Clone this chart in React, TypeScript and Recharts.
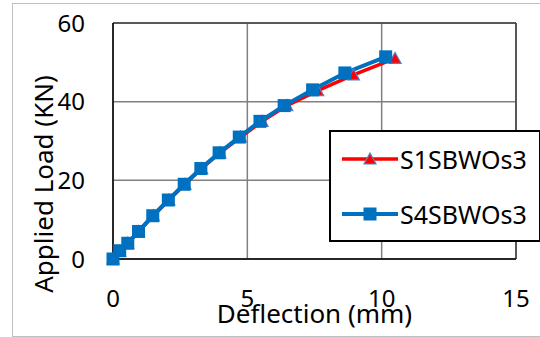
import React from 'react';
import {
  LineChart,
  Line,
  XAxis,
  YAxis,
  CartesianGrid,
  ReferenceLine,
} from 'recharts';

// S1SBWOs3 (red, triangles)
const deflS1 = [0, 0.25, 0.55, 0.95, 1.5, 2.08, 2.68, 3.3, 3.98, 4.75, 5.55, 6.47, 7.62, 8.95, 10.5];
const loadS1 = [0, 2, 4, 7, 11, 15, 19, 23, 27, 31, 35, 39, 42.8, 46.8, 51];

// S4SBWOs3 (blue, squares)
const deflS4 = [0, 0.25, 0.55, 0.95, 1.48, 2.06, 2.65, 3.27, 3.95, 4.7, 5.47, 6.37, 7.43, 8.63, 10.15];
const loadS4 = [0, 2.1, 4, 7, 11, 15, 19, 23, 27, 31, 35, 39, 43, 47.3, 51.4];

const xTicks = [0, 5, 10, 15];
const yTicks = [0, 20, 40, 60];

const RED = '#FF0000';
const BLUE = '#0070C0';
const FONT = '"Noto Sans", sans-serif';

const s1Data = deflS1.map((x, i) => ({ x, y: loadS1[i] }));
const s4Data = deflS4.map((x, i) => ({ x, y: loadS4[i] }));

const Triangle = ({ cx, cy }: any) => (
  <polygon
    points={`${cx},${cy - 6} ${cx - 6},${cy + 5} ${cx + 6},${cy + 5}`}
    fill={RED}
    stroke="#5B7FC2"
    strokeWidth={1.2}
  />
);

const Square = ({ cx, cy }: any) => (
  <rect x={cx - 6.5} y={cy - 6.5} width={13} height={13} fill={BLUE} />
);

const LegendBox = () => (
  <div
    style={{
      position: 'absolute',
      left: 329,
      top: 130,
      width: 208,
      height: 108,
      border: '2px solid #000',
      background: '#fff',
      fontFamily: FONT,
      fontSize: 25,
      color: '#000',
    }}
  >
    {[
      { name: 'S1SBWOs3', color: RED, tri: true },
      { name: 'S4SBWOs3', color: BLUE, tri: false },
    ].map((e, i) => (
      <div
        key={e.name}
        style={{ display: 'flex', alignItems: 'center', height: 28, marginTop: i === 0 ? 13 : 27 }}
      >
        <svg width={70} height={20} style={{ marginLeft: 11 }}>
          <line x1={0} y1={10} x2={56} y2={10} stroke={e.color} strokeWidth={e.tri ? 3.5 : 4} />
          {e.tri ? (
            <polygon points="28,4 22,15 34,15" fill={RED} stroke="#5B7FC2" strokeWidth={1.2} />
          ) : (
            <rect x={21.5} y={3.5} width={13} height={13} fill={BLUE} />
          )}
        </svg>
        <span style={{ marginLeft: -12, lineHeight: '28px' }}>{e.name}</span>
      </div>
    ))}
  </div>
);

export default function App() {
  return (
    <div style={{ position: 'absolute', left: 0, top: 0, width: 540, height: 337, background: '#fff', overflow: 'hidden' }}>
      <div
        style={{
          position: 'absolute',
          left: 12,
          top: 3,
          width: 540,
          height: 332,
          border: '1px solid #bfbfbf',
        }}
      />
      <LineChart
        width={540}
        height={337}
        margin={{ top: 23, right: 24, bottom: 48, left: 0 }}
        style={{ position: 'absolute', left: 0, top: 0 }}
      >
        <CartesianGrid stroke="#808080" strokeWidth={1.5} horizontal vertical />
        <XAxis
          type="number"
          dataKey="x"
          domain={[0, 15]}
          ticks={xTicks}
          height={30}
          tickLine={false}
          tickSize={0}
          tickMargin={31}
          axisLine={{ stroke: '#000', strokeWidth: 1.5 }}
          tick={{ fill: '#000', fontSize: 24, fontFamily: FONT }}
          label={({ viewBox }: any) => (
            <text
              x={viewBox.x + viewBox.width / 2}
              y={viewBox.y + 64}
              textAnchor="middle"
              fontSize={26}
              fontFamily={FONT}
              fill="#000"
            >
              Deflection (mm)
            </text>
          )}
        />
        <YAxis
          type="number"
          domain={[0, 60]}
          ticks={yTicks}
          width={113}
          tickLine={false}
          tickSize={0}
          tickMargin={28}
          axisLine={{ stroke: '#000', strokeWidth: 1.5 }}
          tick={{ fill: '#000', fontSize: 24, fontFamily: FONT }}
          label={() => (
            <text
              x={53}
              y={184}
              transform="rotate(-90 53 184)"
              textAnchor="middle"
              fontSize={26}
              fontFamily={FONT}
              fill="#000"
            >
              Applied Load (KN)
            </text>
          )}
        />
        <ReferenceLine y={60} stroke="#404040" strokeWidth={1.5} />
        <ReferenceLine x={15} stroke="#404040" strokeWidth={1.5} />
        <Line
          data={s1Data}
          dataKey="y"
          name="S1SBWOs3"
          stroke={RED}
          strokeWidth={3.5}
          dot={<Triangle />}
          activeDot={false}
          isAnimationActive={false}
        />
        <Line
          data={s4Data}
          dataKey="y"
          name="S4SBWOs3"
          stroke={BLUE}
          strokeWidth={4}
          dot={<Square />}
          activeDot={false}
          isAnimationActive={false}
        />
      </LineChart>
      <LegendBox />
    </div>
  );
}
